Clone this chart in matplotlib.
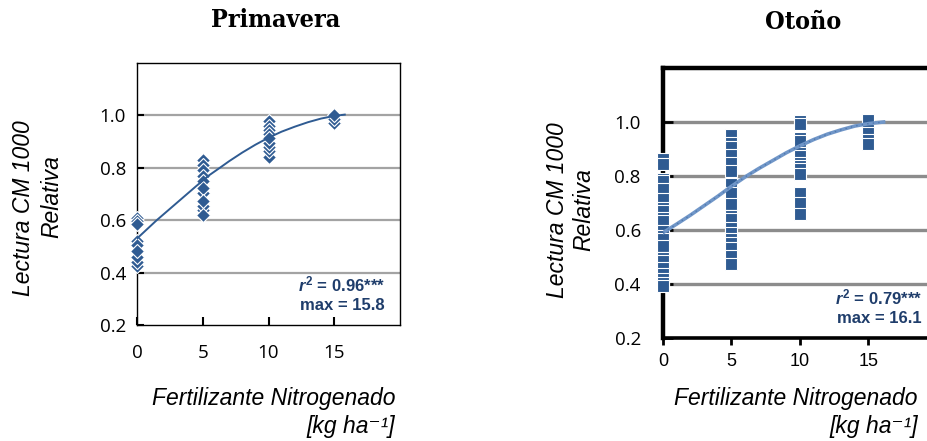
import matplotlib
matplotlib.use("Agg")
import matplotlib.pyplot as plt

plt.rcParams['mathtext.fontset'] = 'custom'
plt.rcParams['mathtext.it'] = 'Liberation Sans:italic:bold'
plt.rcParams['mathtext.rm'] = 'Liberation Sans:bold'

# --- data ---
doses = [0, 5, 10, 15]

# Primavera: relative CM1000 readings per dose (listed in drawing order)
spring_0 = [0.607, 0.597, 0.587, 0.52, 0.505, 0.425, 0.44, 0.458, 0.483]
spring_5 = [0.83, 0.81, 0.79, 0.77, 0.75, 0.705, 0.722, 0.64, 0.655, 0.673, 0.62]
spring_10 = [0.977, 0.96, 0.943, 0.928, 0.84, 0.865, 0.88, 0.895, 0.915]
spring_15 = [0.972, 0.985, 1.0]
spring_fit_x = [0, 1.5, 3, 4.5, 5.5, 6.3, 7, 8, 9, 10, 11, 12, 13, 14, 15, 15.8]
spring_fit_y = [0.53, 0.60, 0.665, 0.73, 0.772, 0.80, 0.825, 0.858, 0.888, 0.915,
                0.938, 0.957, 0.974, 0.988, 0.998, 1.003]

# Otoño
autumn_0 = [0.862, 0.844, 0.788, 0.782, 0.751, 0.714, 0.683, 0.671, 0.646, 0.634,
            0.597, 0.578, 0.566, 0.541, 0.498, 0.485, 0.461, 0.436, 0.418, 0.405, 0.393]
autumn_5 = [0.951, 0.924, 0.909, 0.877, 0.847, 0.819, 0.769, 0.738, 0.695, 0.652,
            0.640, 0.609, 0.590, 0.566, 0.553, 0.535, 0.504, 0.474]
autumn_10 = [1.004, 0.992, 0.942, 0.930, 0.887, 0.874, 0.850, 0.837, 0.825, 0.807,
             0.738, 0.699, 0.659]
autumn_15 = [1.008, 0.97, 0.958, 0.935, 0.918]
autumn_fit_x = [0, 1, 2, 3, 4, 5, 6.1, 7, 8, 9, 10, 11, 12, 13, 14, 15, 16.1]
autumn_fit_y = [0.59, 0.622, 0.655, 0.69, 0.725, 0.762, 0.80, 0.828, 0.857, 0.886,
                0.912, 0.935, 0.955, 0.971, 0.985, 0.994, 1.0]

yticks = [0.2, 0.4, 0.6, 0.8, 1.0]
blue = '#2f5b92'
navy = '#1f3d6b'

fig = plt.figure(figsize=(9.28, 4.41), dpi=100)
W, H = 928, 441
ax1 = fig.add_axes([137 / W, 116 / H, 263 / W, 262 / H])
ax2 = fig.add_axes([663 / W, 103 / H, 274 / W, 270 / H])

tick_font = {'family': 'Open Sans', 'size': 13.5}

# ---------- Primavera ----------
for x, vals in zip(doses, [spring_0, spring_5, spring_10, spring_15]):
    ax1.plot([x] * len(vals), vals, 'D', ms=7.2, mfc=blue, mec='white', mew=0.8,
             ls='none', zorder=3, clip_on=False)
ax1.plot(spring_fit_x, spring_fit_y, color='#2f5b92', lw=1.4, zorder=4)

ax1.set_xlim(0, 20)
ax1.set_ylim(0.2, 1.2)
ax1.set_yticks(yticks)
ax1.set_yticklabels([f'{v:.1f}' for v in yticks], fontdict=tick_font)
ax1.set_xticks(doses)
ax1.set_xticklabels([str(d) for d in doses], fontdict=tick_font)
for v in yticks[1:]:
    ax1.axhline(v, color='#a3a3a3', lw=1.6, zorder=1)
ax1.tick_params(axis='y', direction='in', length=5, width=1.5, pad=8)
ax1.tick_params(axis='x', direction='in', length=6, width=1.5, pad=14)
for s in ax1.spines.values():
    s.set_linewidth(1.0)
    s.set_color('black')
ax1.text(0.943, 0.153, r'$r^{2}$ = 0.96***', transform=ax1.transAxes, ha='right',
         va='center', fontsize=12, fontweight='bold', family='Liberation Sans', color=navy)
ax1.text(0.943, 0.076, 'max = 15.8', transform=ax1.transAxes, ha='right',
         va='center', fontsize=12, fontweight='bold', family='Liberation Sans', color=navy)

# ---------- Otoño ----------
for x, vals in zip(doses, [autumn_0, autumn_5, autumn_10, autumn_15]):
    ax2.plot([x] * len(vals), vals, 's', ms=8.4, mfc=blue, mec='white', mew=0.8,
             ls='none', zorder=3, clip_on=False)
ax2.plot(autumn_fit_x, autumn_fit_y, color='#7096c8', lw=2.6, zorder=4)
ax2.plot(autumn_fit_x, autumn_fit_y, color='#4f78ad', lw=1.0, ls=(0, (1, 3)), zorder=4)

ax2.set_xlim(0, 20)
ax2.set_ylim(0.2, 1.2)
ax2.set_yticks(yticks)
ax2.set_yticklabels([f'{v:.1f}' for v in yticks], fontdict=tick_font)
ax2.set_xticks(doses)
ax2.set_xticklabels([str(d) for d in doses],
                    fontdict={'family': ['Liberation Sans Narrow', 'Liberation Sans'], 'size': 13})
for v in yticks[1:]:
    ax2.axhline(v, color='#8c8c8c', lw=2.4, zorder=1)
ax2.tick_params(axis='y', direction='in', length=7, width=2, pad=16)
ax2.tick_params(axis='x', direction='out', length=5, width=2, pad=6)
ax2.spines['top'].set_linewidth(3.2)
ax2.spines['left'].set_linewidth(3.2)
ax2.spines['bottom'].set_linewidth(2.6)
ax2.spines['right'].set_visible(False)
ax2.text(0.945, 0.152, r'$r^{2}$ = 0.79***', transform=ax2.transAxes, ha='right',
         va='center', fontsize=12, fontweight='bold', family='Liberation Sans', color=navy)
ax2.text(0.945, 0.074, 'max = 16.1', transform=ax2.transAxes, ha='right',
         va='center', fontsize=12, fontweight='bold', family='Liberation Sans', color=navy)

# ---------- titles and labels ----------
title_font = dict(family='DejaVu Serif', fontstretch='condensed', fontweight='bold',
                  fontsize=18, ha='center', va='center')
fig.text(276 / W, 1 - 20 / H, 'Primavera', **title_font)
fig.text(803 / W, 1 - 22 / H, 'Otoño', **title_font)

lab = dict(family=['Liberation Sans', 'DejaVu Sans'], style='italic', fontsize=16.5)
fig.text(24 / W, 1 - 208 / H, 'Lectura CM 1000', rotation=90, ha='center', va='center', **lab)
fig.text(52 / W, 1 - 197 / H, 'Relativa', rotation=90, ha='center', va='center', **lab)
fig.text(558 / W, 1 - 210 / H, 'Lectura CM 1000', rotation=90, ha='center', va='center', **lab)
fig.text(584 / W, 1 - 210 / H, 'Relativa', rotation=90, ha='center', va='center', **lab)

for xr in (395, 918):
    fig.text(xr / W, 1 - 398 / H, 'Fertilizante Nitrogenado', ha='right', va='center', **lab)
    fig.text(xr / W, 1 - 426 / H, '[kg ha⁻¹]', ha='right', va='center', **lab)

fig.savefig('out.png', dpi=100)
